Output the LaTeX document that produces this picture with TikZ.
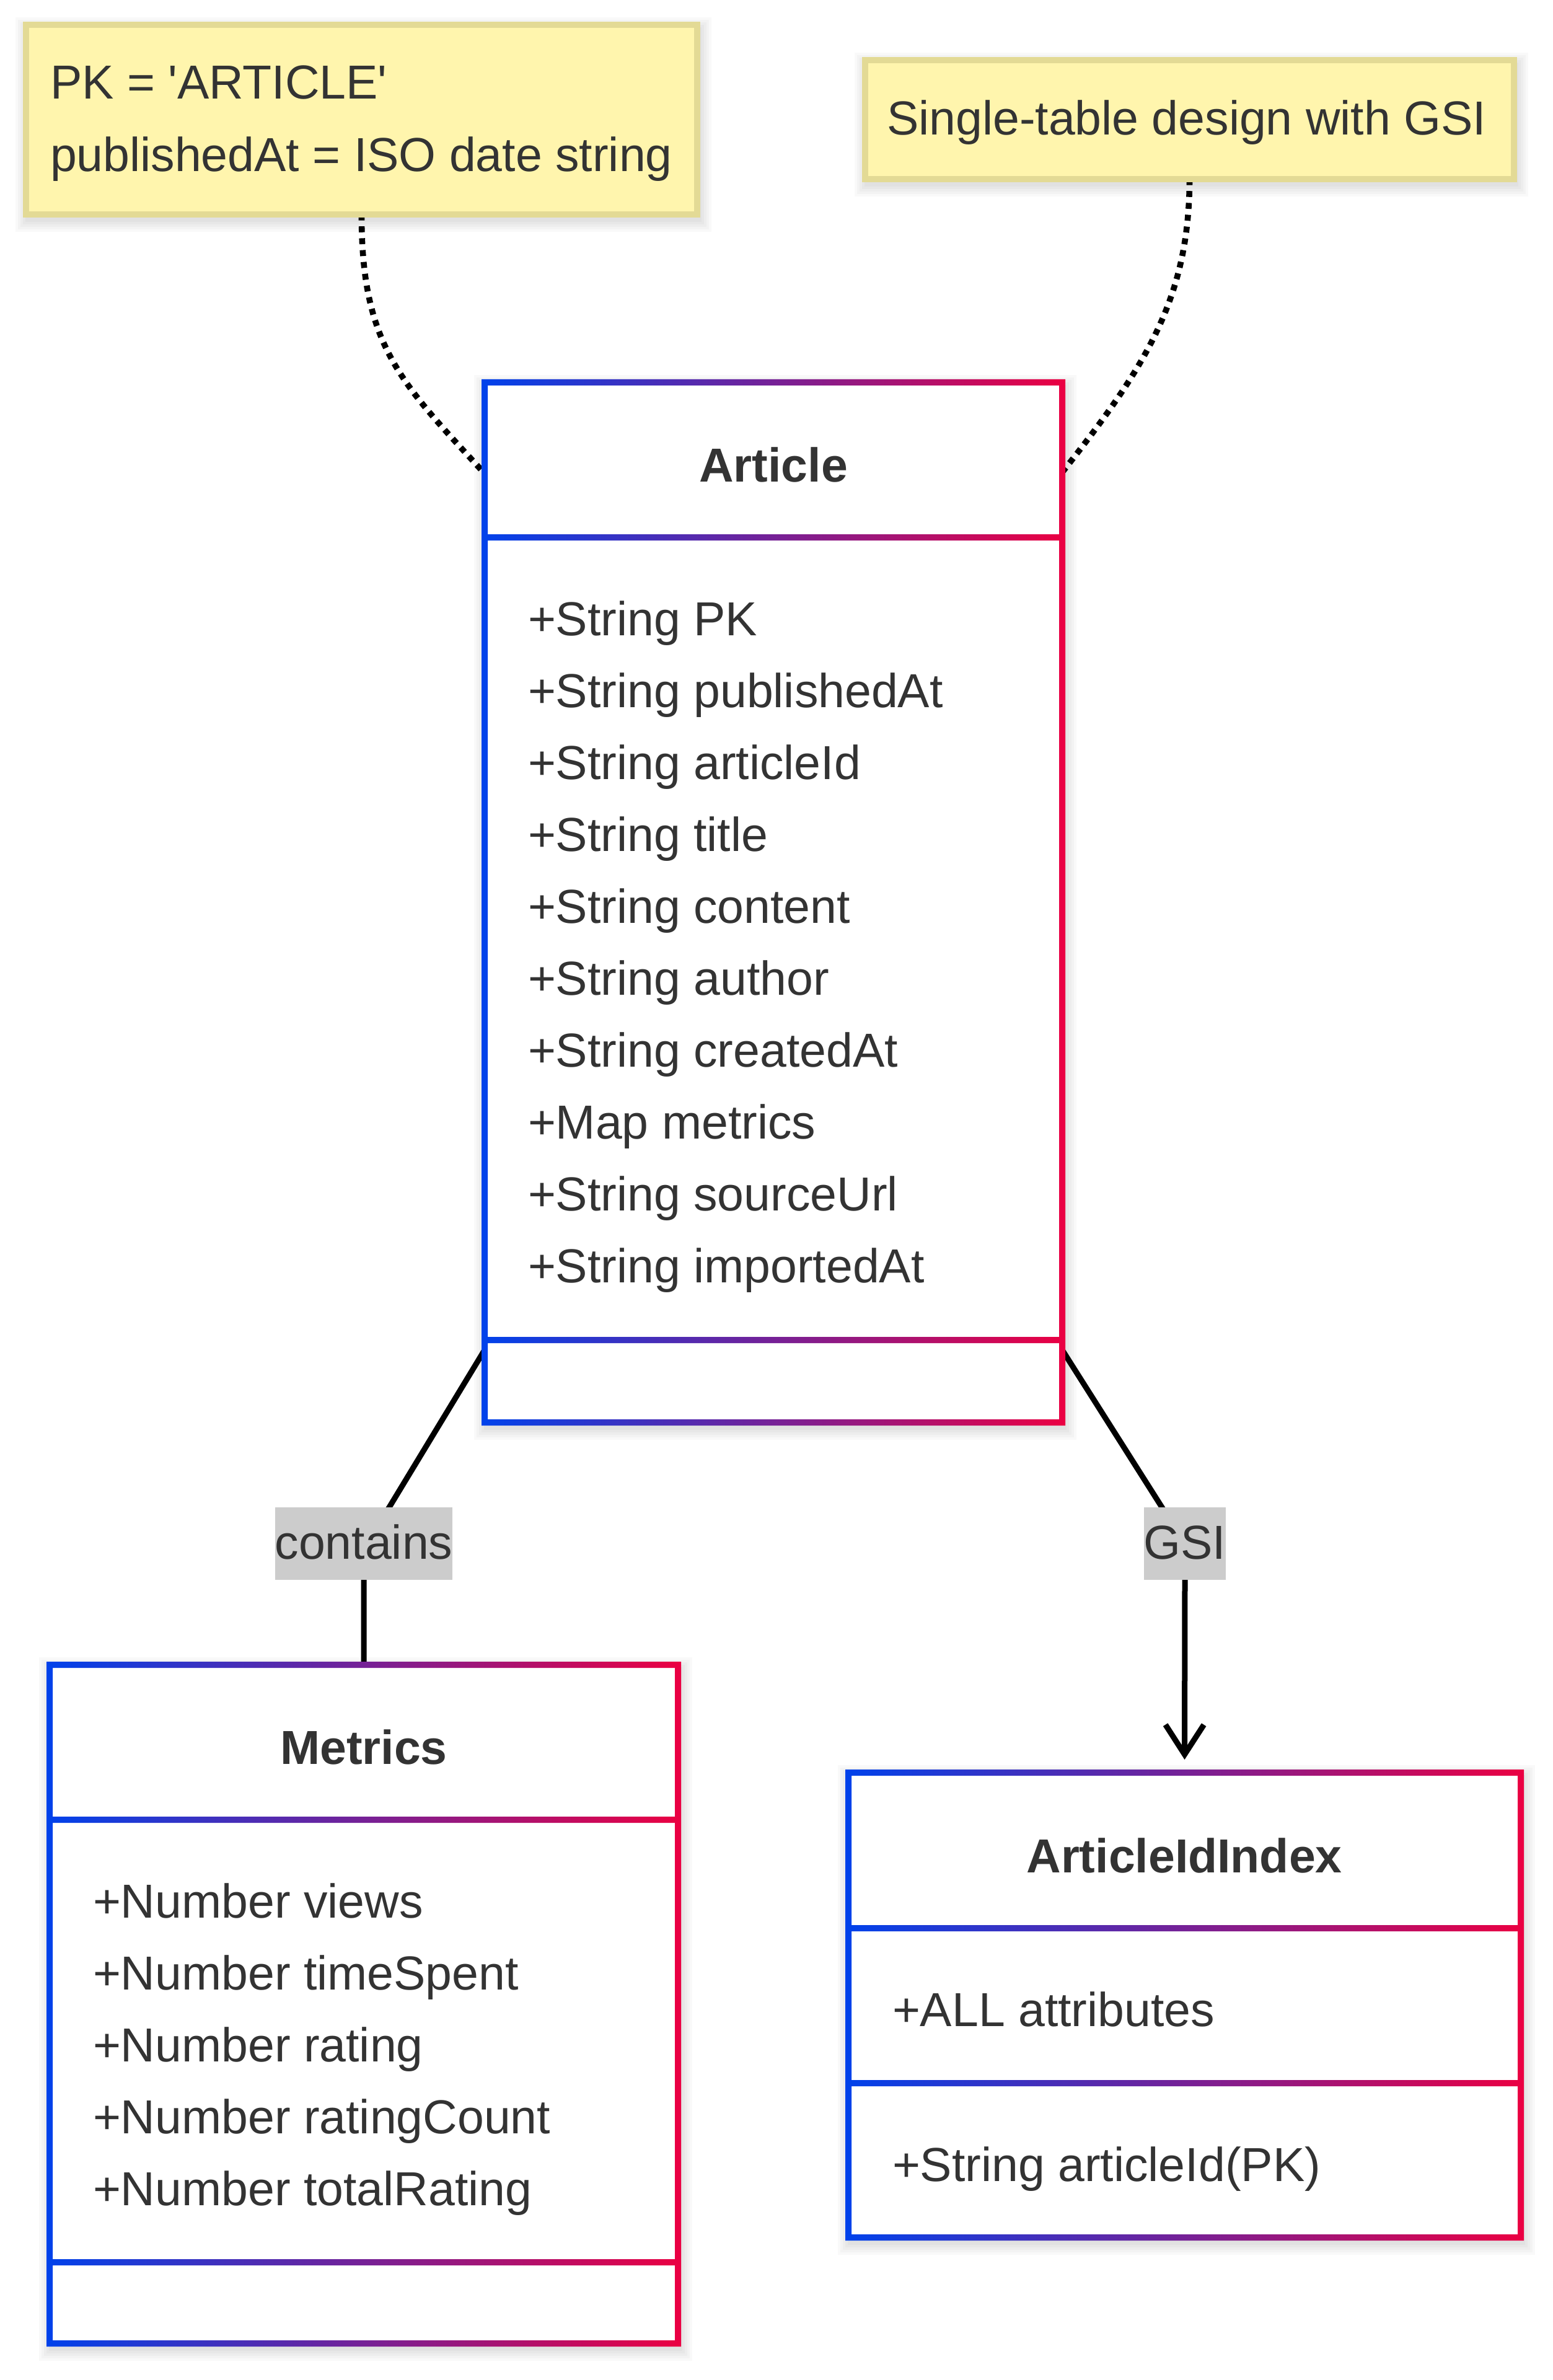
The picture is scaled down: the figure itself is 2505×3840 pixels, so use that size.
\documentclass[tikz,border=0pt]{standalone}
\usepackage{fontspec}
\newfontfamily\lsans{Liberation Sans}
\usetikzlibrary{arrows.meta, fit, calc}
\pgfdeclarelayer{bg}
\pgfsetlayers{bg,main}
\definecolor{gblue}{RGB}{0,66,235}
\definecolor{gred}{RGB}{235,0,66}
\definecolor{txt}{RGB}{51,51,51}
\definecolor{notefill}{RGB}{255,245,173}
\definecolor{notedraw}{RGB}{227,218,149}
\definecolor{lblgray}{RGB}{204,204,204}
% gradient frame: x1 y1 x2 y2 divider1 divider2 (px, y downwards)
\newcommand\gradframe[6]{%
  \shade[left color=gblue, right color=gred, even odd rule]
    (#1-5,#2-5) rectangle (#3+5,#4+5)
    (#1+5,#2+5) rectangle (#3-5,#5-5)
    (#1+5,#5+5) rectangle (#3-5,#6-5)
    (#1+5,#6+5) rectangle (#3-5,#4-5);}
% soft shadow: x1 y1 x2 y2
\newcommand\softshadow[4]{%
  \foreach \s in {4,8,12,16,20}{%
    \fill[black, opacity=0.025] (#1+3-\s,#2+8-\s) rectangle (#3+3+\s,#4+8+\s);}}
\begin{document}
\begin{tikzpicture}[x=0.25pt, y=-0.25pt,
  every node/.style={inner sep=0pt, outer sep=0pt},
  classbox/.style={fill=white},
  notebox/.style={fill=notefill, draw=notedraw, line width=2.5pt},
  txtnode/.style={font=\lsans\fontsize{19.25pt}{23pt}\selectfont, text=txt},
  titlenode/.style={font=\lsans\bfseries\fontsize{19.25pt}{23pt}\selectfont, text=txt},
  edgelabel/.style={txtnode, fill=lblgray, text height=20.75pt, text depth=8.5pt},
  conn/.style={draw=black, line width=2.25pt},
  noteconn/.style={draw=black, line width=2.4pt, dash pattern=on 2.4pt off 2.4pt},
]
\useasboundingbox (0,0) rectangle (2505,3840);
\begin{pgfonlayer}{bg}
  \fill[white] (0,0) rectangle (2505,3840);
\end{pgfonlayer}

% ---------- notes ----------
\softshadow{42}{40}{1125}{346}
\node[notebox, fit={(42,40)(1125,346)}] (note1) {};
\node[txtnode, anchor=base west] (n1a) at (81,160) {PK = 'ARTICLE'};
\node[txtnode, anchor=base west] (n1b) at (81,277) {publishedAt = ISO date string};

\softshadow{1396}{97}{2443}{289}
\node[notebox, fit={(1396,97)(2443,289)}] (note2) {};
\node[txtnode, anchor=base west] (n2a) at (1431,218) {Single-table design with GSI};

% ---------- Article ----------
\softshadow{782}{617}{1714}{2295}
\node[classbox, fit={(782,617)(1714,2295)}] (article) {};
\gradframe{782}{617}{1714}{2295}{867}{2162}
\node[titlenode, anchor=base] (at) at (1248,777) {Article};
\node[txtnode, anchor=base west] (a1) at (852,1025) {+String PK};
\node[txtnode, anchor=base west] (a2) at (852,1141) {+String publishedAt};
\node[txtnode, anchor=base west] (a3) at (852,1257) {+String articleId};
\node[txtnode, anchor=base west] (a4) at (852,1373) {+String title};
\node[txtnode, anchor=base west] (a5) at (852,1489) {+String content};
\node[txtnode, anchor=base west] (a6) at (852,1605) {+String author};
\node[txtnode, anchor=base west] (a7) at (852,1721) {+String createdAt};
\node[txtnode, anchor=base west] (a8) at (852,1837) {+Map metrics};
\node[txtnode, anchor=base west] (a9) at (852,1953) {+String sourceUrl};
\node[txtnode, anchor=base west] (a10) at (852,2069) {+String importedAt};

% ---------- Metrics ----------
\softshadow{80}{2686}{1094}{3781}
\node[classbox, fit={(80,2686)(1094,3781)}] (metrics) {};
\gradframe{80}{2686}{1094}{3781}{2936}{3650}
\node[titlenode, anchor=base] (mt) at (587,2846) {Metrics};
\node[txtnode, anchor=base west] (m1) at (150,3094) {+Number views};
\node[txtnode, anchor=base west] (m2) at (150,3210) {+Number timeSpent};
\node[txtnode, anchor=base west] (m3) at (150,3326) {+Number rating};
\node[txtnode, anchor=base west] (m4) at (150,3442) {+Number ratingCount};
\node[txtnode, anchor=base west] (m5) at (150,3558) {+Number totalRating};

% ---------- ArticleIdIndex ----------
\softshadow{1369}{2860}{2454}{3610}
\node[classbox, fit={(1369,2860)(2454,3610)}] (aidx) {};
\gradframe{1369}{2860}{2454}{3610}{3111}{3361}
\node[titlenode, anchor=base] (it) at (1911,3021) {ArticleIdIndex};
\node[txtnode, anchor=base west] (i1) at (1440,3269) {+ALL attributes};
\node[txtnode, anchor=base west] (i2) at (1440,3519) {+String articleId(PK)};

% ---------- edge labels ----------
\node[edgelabel, anchor=base] (lc) at (587,2515) {contains};
\node[edgelabel, anchor=base] (lg) at (1912,2515) {GSI};

% ---------- connectors ----------
\begin{pgfonlayer}{bg}
  \draw[noteconn] (note1.south) .. controls (583,560) and (650,620) .. ([yshift=-36.75pt]article.north west);
  \draw[noteconn] (note2.south) .. controls (1919,480) and (1850,590) .. ([yshift=-36.25pt]article.north east);
  \draw[conn] ([yshift=29.25pt]article.south west) -- ([xshift=10.25pt]lc.north)
     .. controls (lc.center) .. (lc.south) -- (metrics.north);
  \draw[conn, -{Straight Barb[length=12pt,width=15.5pt]}] ([yshift=29.25pt]article.south east)
     -- ([xshift=-9.25pt]lg.north) .. controls (lg.center) .. (lg.south) -- ([yshift=5.25pt]aidx.north);
\end{pgfonlayer}
\end{tikzpicture}
\end{document}
